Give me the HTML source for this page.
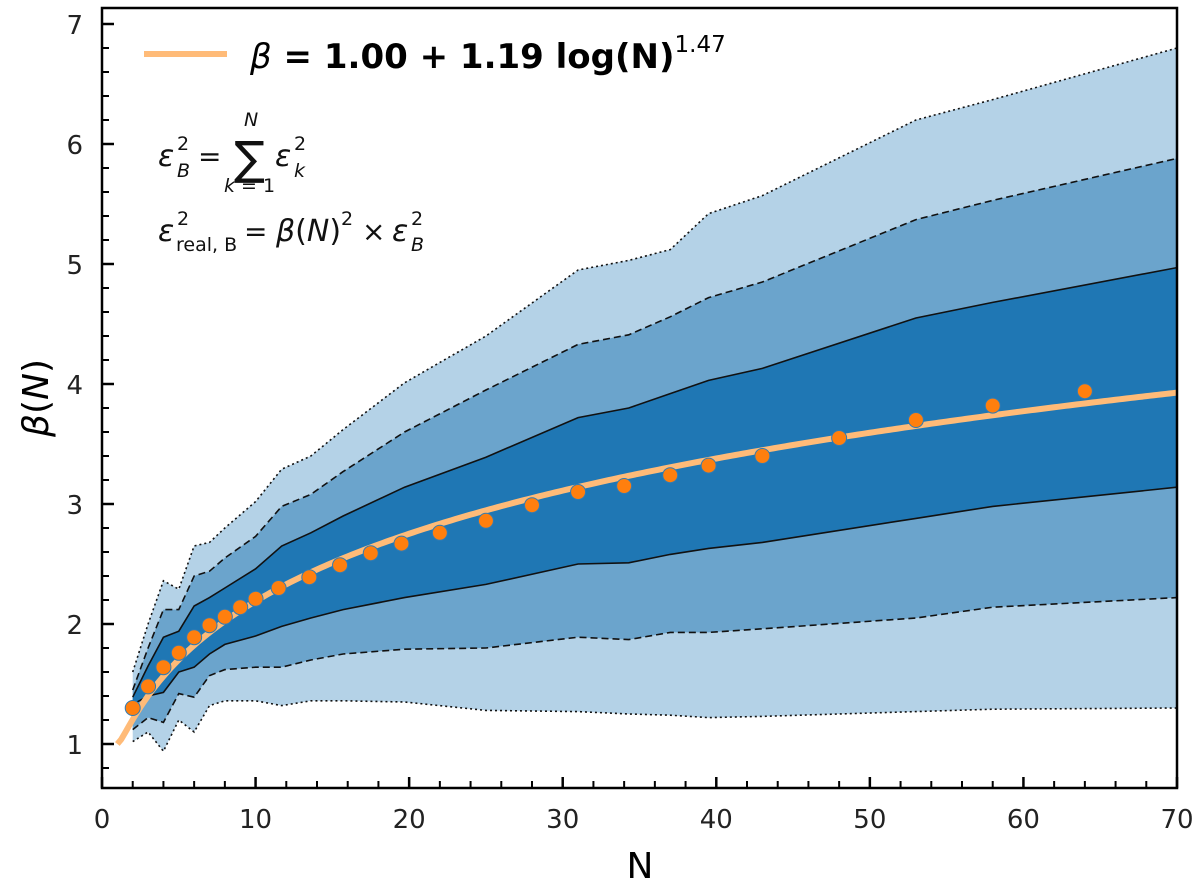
<!DOCTYPE html>
<html><head><meta charset="utf-8">
<style>
html,body{margin:0;padding:0;background:#fff;}
svg{display:block;font-family:"DejaVu Sans","Liberation Sans",sans-serif;}
</style></head>
<body>
<svg id="chart" width="1200" height="887" viewBox="0 0 1200 887">
  <defs><clipPath id="plotclip"><rect x="102" y="8" width="1075" height="780"/></clipPath></defs>
  <g id="bands" clip-path="url(#plotclip)"></g>
  <g id="fit" clip-path="url(#plotclip)"></g>
  <g id="dots"></g>
  <rect x="102" y="8" width="1075" height="780" fill="none" stroke="#000" stroke-width="2.5"/>
  <g id="axes"></g>
  <g>
    <line x1="144" y1="54" x2="227" y2="54" stroke="#ffbb78" stroke-width="6"/>
    <text x="250" y="68" font-size="34" font-weight="bold"><tspan font-style="italic" font-weight="normal">β</tspan> = 1.00 + 1.19 log(N)<tspan font-size="23" font-weight="normal" dy="-16">1.47</tspan></text>
  </g>
  <g fill="#111">
    <text x="158" y="166" font-size="30" font-style="italic">ε</text>
    <text x="177" y="177" font-size="19" font-style="italic">B</text>
    <text x="177" y="150" font-size="19">2</text>
    <text x="198" y="166" font-size="28">=</text>
    <text x="234" y="174" font-size="46">∑</text>
    <text x="275" y="166" font-size="30" font-style="italic">ε</text>
    <text x="294" y="177" font-size="19" font-style="italic">k</text>
    <text x="294" y="150" font-size="19">2</text>
    <text x="244" y="126" font-size="19" font-style="italic">N</text>
    <text x="224" y="192" font-size="19"><tspan font-style="italic">k</tspan> = 1</text>
  </g>
  <g fill="#111">
    <text x="158" y="241" font-size="30" font-style="italic">ε</text>
    <text x="176" y="251" font-size="19">real, B</text>
    <text x="177" y="225" font-size="19">2</text>
    <text x="244" y="241" font-size="28">=</text>
    <text x="276" y="241" font-size="30"><tspan font-style="italic">β</tspan>(<tspan font-style="italic">N</tspan>)</text>
    <text x="341" y="225" font-size="19">2</text>
    <text x="362" y="241" font-size="28">×</text>
    <text x="392" y="241" font-size="30" font-style="italic">ε</text>
    <text x="411" y="251" font-size="19" font-style="italic">B</text>
    <text x="411" y="225" font-size="19">2</text>
  </g>
  <text x="640" y="878" font-size="36" text-anchor="middle">N</text>
  <text transform="translate(48,398) rotate(-90)" font-size="36" text-anchor="middle"><tspan font-style="italic">β</tspan>(<tspan font-style="italic">N</tspan>)</text>
</svg>
<script>
const nodesN = [2,3,4,5,6,7,8,10,11.7,13.6,15.7,19.7,25,31,34.3,37,39.5,43,53,58,70];
const dotUp  = [1.6,2.0,2.36,2.29,2.65,2.68,2.8,3.02,3.29,3.40,3.62,4.01,4.40,4.95,5.03,5.12,5.42,5.57,6.2,6.37,6.8];
const dashUp = [1.45,1.8,2.12,2.12,2.40,2.44,2.55,2.73,2.98,3.08,3.27,3.60,3.95,4.33,4.41,4.56,4.72,4.85,5.37,5.53,5.88];
const solUp  = [1.39,1.65,1.89,1.94,2.15,2.22,2.3,2.46,2.65,2.76,2.90,3.14,3.39,3.72,3.80,3.92,4.03,4.13,4.55,4.68,4.97];
const solLo  = [1.33,1.40,1.43,1.60,1.64,1.75,1.83,1.90,1.98,2.05,2.12,2.22,2.33,2.50,2.51,2.58,2.63,2.68,2.88,2.98,3.14];
const dashLo = [1.12,1.22,1.18,1.42,1.39,1.57,1.62,1.64,1.64,1.70,1.75,1.79,1.80,1.89,1.87,1.93,1.93,1.96,2.05,2.14,2.22];
const dotLo  = [1.02,1.10,0.94,1.20,1.10,1.32,1.36,1.36,1.32,1.36,1.36,1.35,1.28,1.27,1.25,1.24,1.22,1.23,1.27,1.29,1.30];
const pointN = [2,3,4,5,6,7,8,9,10,11.5,13.5,15.5,17.5,19.5,22,25,28,31,34,37,39.5,43,48,53,58,64];
const pointB = [1.30,1.48,1.64,1.76,1.89,1.99,2.06,2.14,2.21,2.30,2.39,2.49,2.59,2.67,2.76,2.86,2.99,3.10,3.15,3.24,3.32,3.40,3.55,3.70,3.82,3.94];
const fitA = 1.00, fitB = 1.19, fitP = 1.47;
const xTicks = [0,10,20,30,40,50,60,70];
const yTicks = [1,2,3,4,5,6,7];

const X0=102, X1=1177, XMAX=70, Y1V=744, YPU=120;
function sx(n){return X0+(X1-X0)*n/XMAX;}
function sy(v){return Y1V-(v-1)*YPU;}
const NS='http://www.w3.org/2000/svg';
function mk(tag,attrs,parent){const e=document.createElementNS(NS,tag);for(const k in attrs)e.setAttribute(k,attrs[k]);parent.appendChild(e);return e;}
const bands=document.getElementById('bands');
function band(up,lo,fill,name){
  let d='M'+nodesN.map((n,i)=>sx(n)+','+sy(up[i])).join('L');
  for(let i=nodesN.length-1;i>=0;i--) d+='L'+sx(nodesN[i])+','+sy(lo[i]);
  const p=mk('path',{d:d+'Z',fill:fill},bands);
  
  
}
function edge(arr,dash,w,name){
  const p=mk('path',{d:'M'+nodesN.map((n,i)=>sx(n)+','+sy(arr[i])).join('L'),fill:'none',stroke:'#111','stroke-width':w,'stroke-dasharray':dash},bands);
  
  
}
band(dotUp,dotLo,'#b4d2e7','band-outer');
band(dashUp,dashLo,'#6ba4cc','band-middle');
band(solUp,solLo,'#1f77b4','band-inner');
edge(dotUp,'2 3',1.6,'outer-upper-edge');edge(dotLo,'2 3',1.6,'outer-lower-edge');
edge(dashUp,'7 4',1.6,'middle-upper-edge');edge(dashLo,'7 4',1.6,'middle-lower-edge');
edge(solUp,'',1.6,'inner-upper-edge');edge(solLo,'',1.6,'inner-lower-edge');

const fit=document.getElementById('fit');
let fd='';
for(let n=1;n<=70;n+=0.25){const b=fitA+fitB*Math.pow(Math.log10(n),fitP);fd+=(fd?'L':'M')+sx(n)+','+sy(b);}
const fl=mk('path',{d:fd,fill:'none',stroke:'#ffbb78','stroke-width':6},fit);



const dots=document.getElementById('dots');
pointN.forEach((n,i)=>{
  const c=mk('circle',{cx:sx(n),cy:sy(pointB[i]),r:7.5,fill:'#ff7f0e',stroke:'#2f7bb5','stroke-width':1},dots);
  
  
});

const axes=document.getElementById('axes');
xTicks.forEach(t=>{
  const l=mk('line',{x1:sx(t),x2:sx(t),y1:788,y2:777,stroke:'#000','stroke-width':2.5},axes);
  
  
  const tx=mk('text',{x:sx(t),y:828,'font-size':26,'text-anchor':'middle',fill:'#222'},axes);
  tx.textContent=t;
  
  
});
for(let t=2;t<70;t+=2){ if(t%10===0) continue;
  const l=mk('line',{x1:sx(t),x2:sx(t),y1:788,y2:781,stroke:'#000','stroke-width':2},axes);
  
  
}
yTicks.forEach(t=>{
  const l=mk('line',{x1:102,x2:114,y1:sy(t),y2:sy(t),stroke:'#000','stroke-width':2.5},axes);
  
  
  const tx=mk('text',{x:83,y:sy(t)+10,'font-size':26,'text-anchor':'end',fill:'#222'},axes);
  tx.textContent=t;
  
  
});
for(let t=0.8;t<7.1;t+=0.2){ const r=Math.round(t*10)/10; if(Math.abs(r-Math.round(r))<0.01) continue;
  const l=mk('line',{x1:102,x2:109,y1:sy(r),y2:sy(r),stroke:'#000','stroke-width':2},axes);
  
  
}
</script>
</body></html>
